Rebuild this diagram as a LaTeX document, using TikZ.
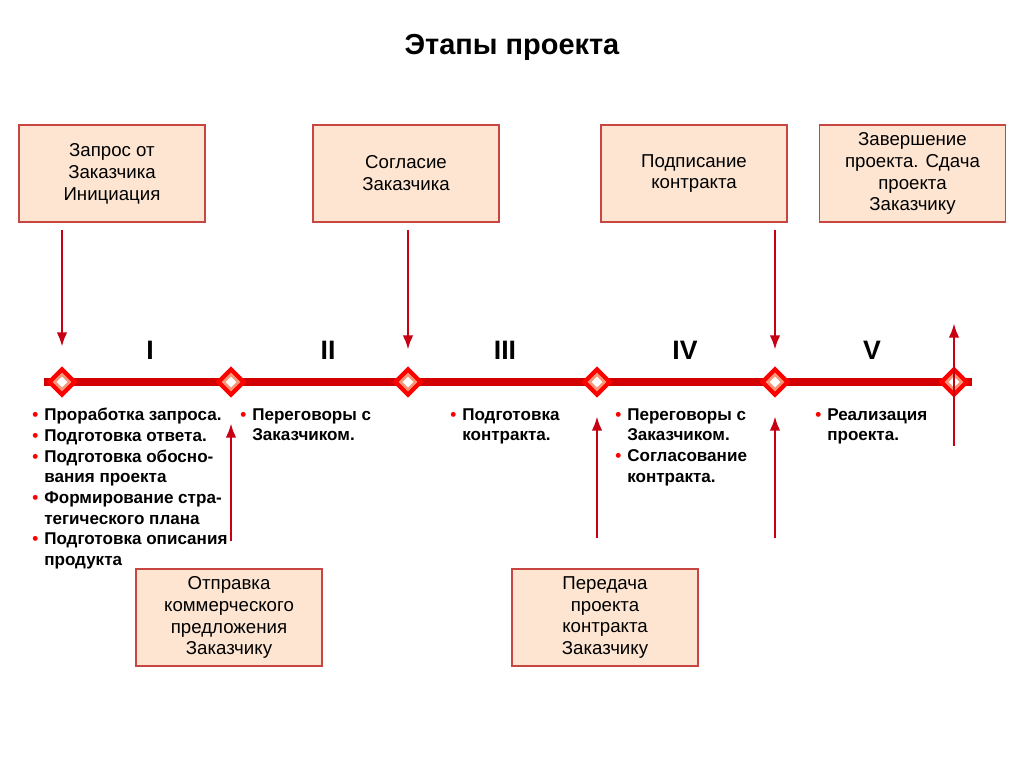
\documentclass[tikz,border=0pt]{standalone}
\usepackage{fontspec}
\setmainfont{Liberation Sans}
\usetikzlibrary{shapes.geometric,arrows.meta}
\definecolor{boxfill}{RGB}{253,229,210}
\definecolor{boxline}{RGB}{200,70,65}
\definecolor{arr}{RGB}{200,0,20}
\definecolor{tl}{RGB}{210,0,0}
\definecolor{dmid}{RGB}{248,150,120}
\tikzset{
  stagebox/.style={draw=boxline, line width=1pt, fill=boxfill, minimum width=186*0.75pt, minimum height=97*0.75pt, align=center, font=\fontsize{14}{16.4}\selectfont, inner sep=2pt},
  dmd/.style={diamond, draw=red, line width=3.2pt, fill=dmid, minimum width=27*0.75pt, minimum height=27*0.75pt, inner sep=0pt},
  dmdin/.style={diamond, fill=white, minimum width=11*0.75pt, minimum height=11*0.75pt, inner sep=0pt},
  conn/.style={draw=arr, line width=2.2pt, -{Latex[length=11pt,width=8pt]}},
  roman/.style={font=\fontsize{20}{22}\selectfont\bfseries},
  blist/.style={anchor=north west, align=left, inner sep=0pt, font=\fontsize{12.8}{15.5}\selectfont\bfseries},
}
\newcommand{\bul}{\makebox[9pt][l]{\textcolor{red}{\textbullet}}}
\newcommand{\ind}{\hspace*{9pt}}
\begin{document}
\begin{tikzpicture}[x=0.75pt,y=-0.75pt]
\useasboundingbox (0,0) rectangle (1024,767);
\node[font=\fontsize{21.7}{24}\selectfont\bfseries] (title) at (512,47) {Этапы проекта};
% boxes
\node[stagebox] (b1) at (112,173.5) {Запрос от\\Заказчика\\Инициация};
\node[stagebox] (b2) at (406,173.5) {Согласие\\Заказчика};
\node[stagebox] (b3) at (694,173.5) {Подписание\\контракта};
\node[stagebox] (b4) at (912.5,173.5) {Завершение\\проекта. Сдача\\проекта\\Заказчику};
\node[stagebox] (b5) at (229,617.5) {Отправка\\коммерческого\\предложения\\Заказчику};
\node[stagebox] (b6) at (605,617.5) {Передача\\проекта\\контракта\\Заказчику};
% timeline
\coordinate (tlL) at (44,382);
\coordinate (tlR) at (972,382);
\draw[tl, line width=6pt] (tlL) -- (tlR);
\foreach \n/\x in {1/62,2/231,3/408,4/597,5/775,6/954}{
  \node[dmd] (d\n) at (\x,382) {};
  \node[dmdin] (di\n) at (\x,382) {};
}
% roman numerals
\node[roman] (r1) at (150,350) {I};
\node[roman] (r2) at (328,350) {II};
\node[roman] (r3) at (505,350) {III};
\node[roman] (r4) at (685,350) {IV};
\node[roman] (r5) at (872,350) {V};
% arrows down
\coordinate (a1s) at (62,230); \coordinate (a1e) at (62,347);
\coordinate (a2s) at (408,230); \coordinate (a2e) at (408,350);
\coordinate (a3s) at (775,230); \coordinate (a3e) at (775,350);
\draw[conn] (a1s) -- (a1e);
\draw[conn] (a2s) -- (a2e);
\draw[conn] (a3s) -- (a3e);
% arrows up
\coordinate (u1s) at (231,541); \coordinate (u1e) at (231,423);
\coordinate (u2s) at (597,538); \coordinate (u2e) at (597,416);
\coordinate (u3s) at (775,538); \coordinate (u3e) at (775,416);
\coordinate (u4s) at (954,446); \coordinate (u4e) at (954,323);
\draw[conn] (u1s) -- (u1e);
\draw[conn] (u2s) -- (u2e);
\draw[conn] (u3s) -- (u3e);
\draw[conn] (u4s) -- (u4e);
% bullet texts
\node[blist] (t1) at (32,408) {\bul Проработка запроса.\\\bul Подготовка ответа.\\\bul Подготовка обосно-\\\ind вания проекта\\\bul Формирование стра-\\\ind тегического плана\\\bul Подготовка описания\\\ind продукта};
\node[blist] (t2) at (240,408) {\bul Переговоры с\\\ind Заказчиком.};
\node[blist] (t3) at (450,408) {\bul Подготовка\\\ind контракта.};
\node[blist] (t4) at (615,408) {\bul Переговоры с\\\ind Заказчиком.\\\bul Согласование\\\ind контракта.};
\node[blist] (t5) at (815,408) {\bul Реализация\\\ind проекта.};
\end{tikzpicture}
\end{document}
